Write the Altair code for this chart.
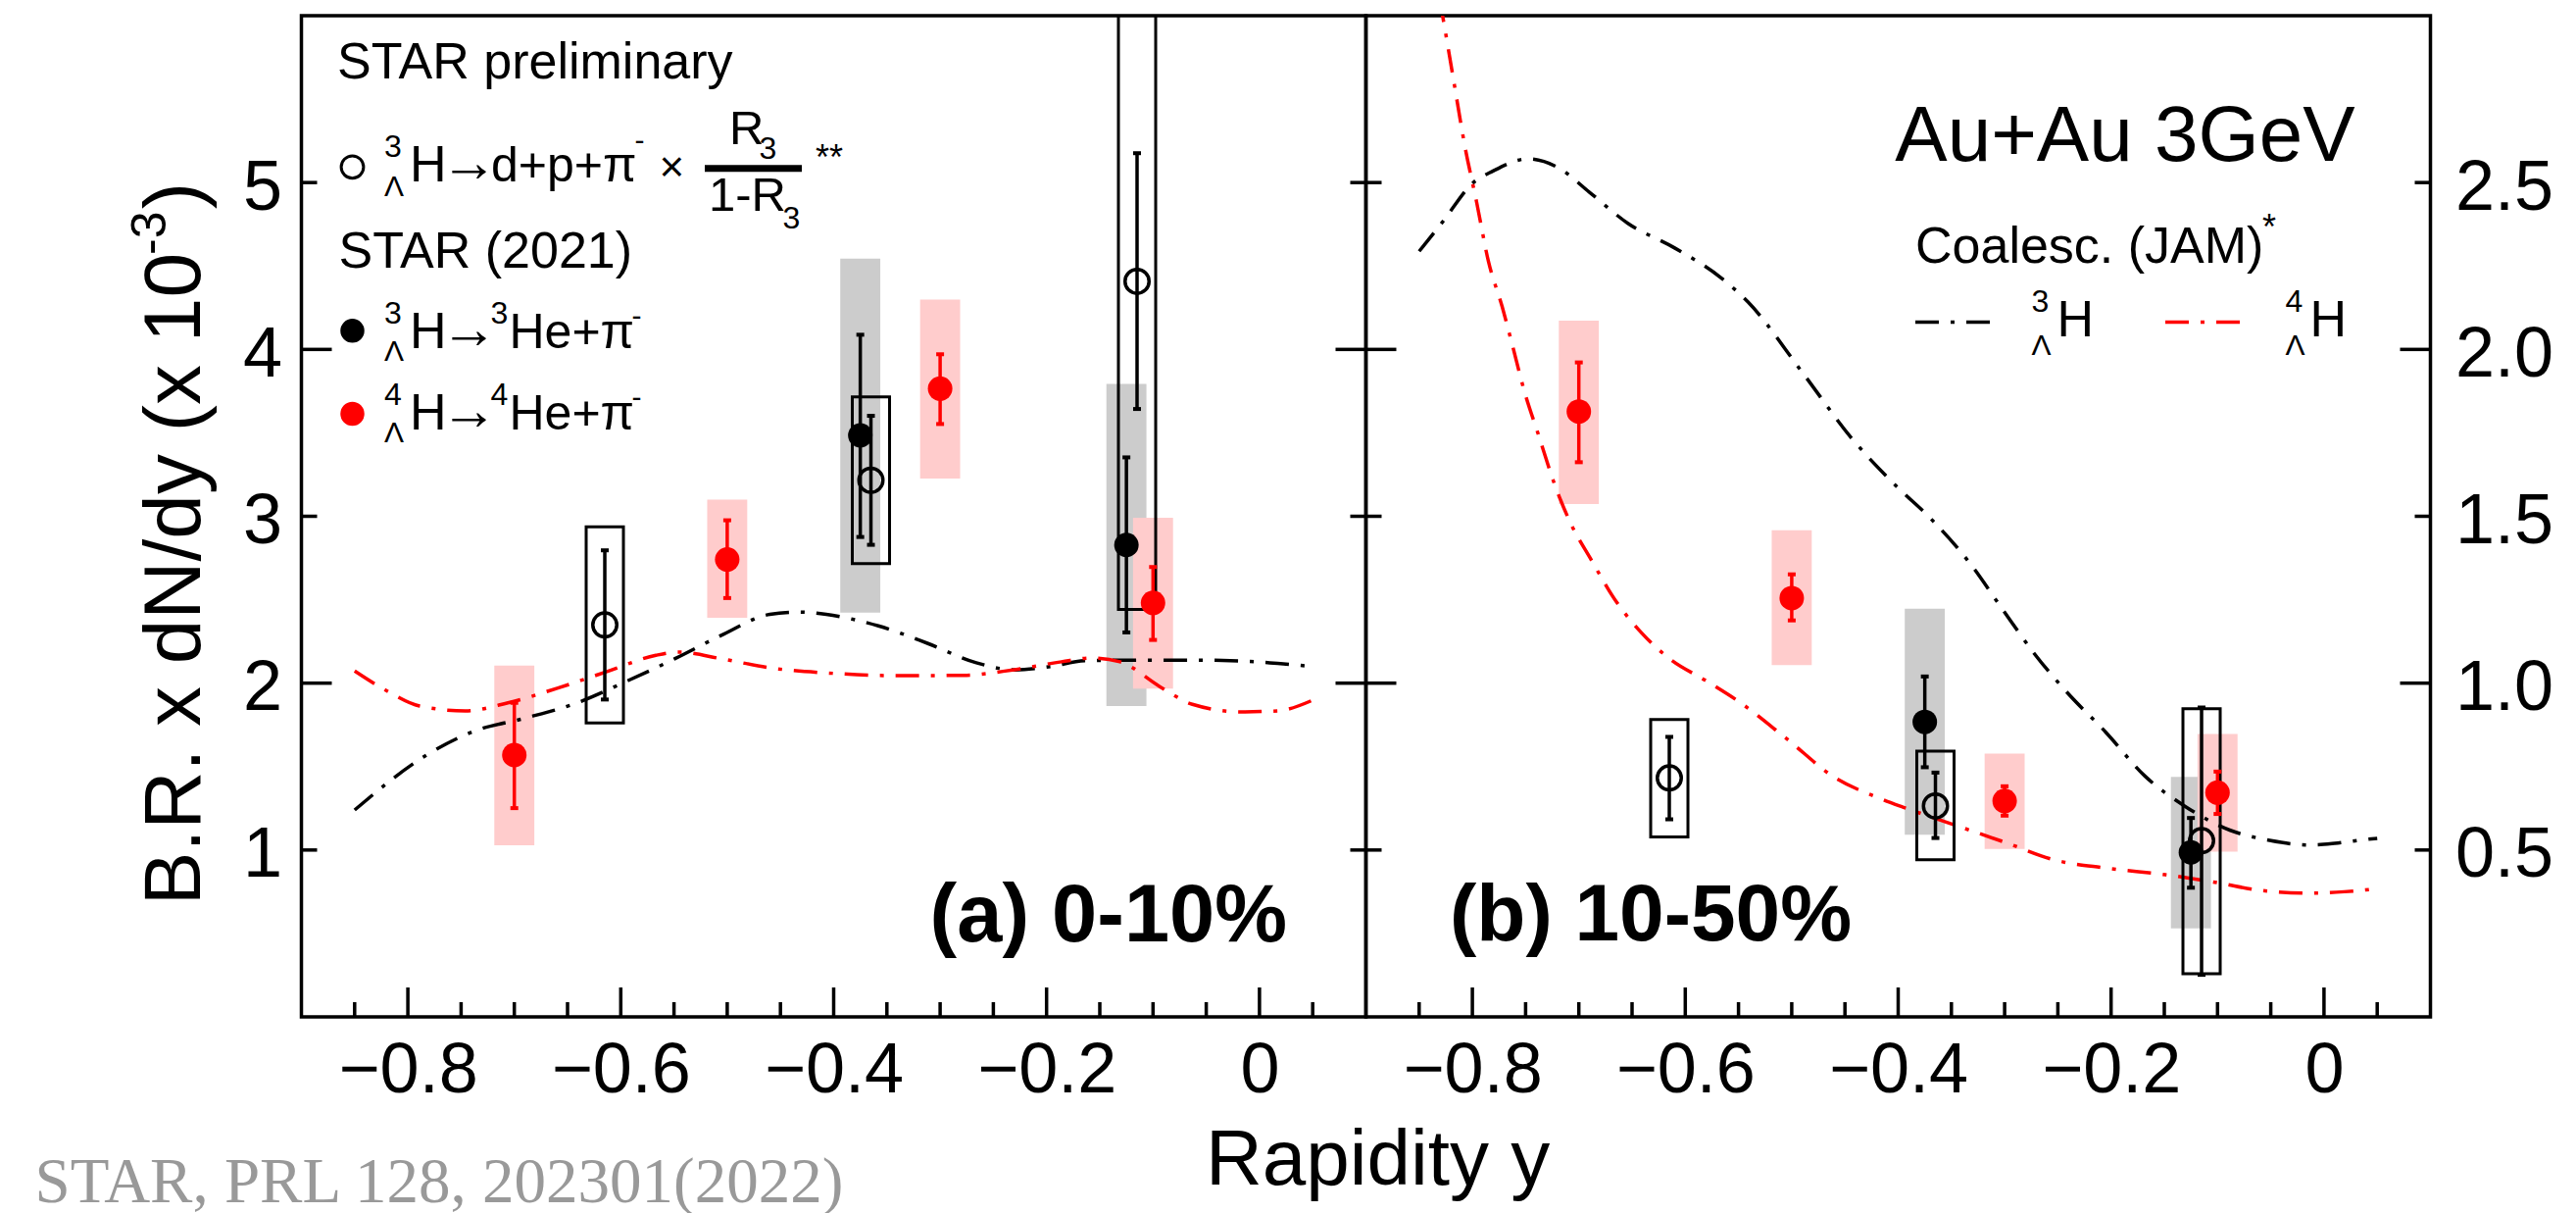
import altair as alt
import pandas as pd

FONT = "Liberation Sans"
SERIF = "Liberation Serif"

# ---------------- data ----------------
# rapidity positions
X_H4 = [-0.70, -0.50, -0.30, -0.10]          # 4ΛH -> 4He + π−
X_H3 = [-0.375, -0.125]                      # 3ΛH -> 3He + π−  (STAR 2021)
X_H3P = [-0.615, -0.365, -0.115]             # 3ΛH -> d+p+π−  (preliminary)

# panel (a) 0-10 %
A_H4_Y = [1.569, 2.741, 3.765, 2.481]
A_H4_ST_LO = [1.251, 2.510, 3.553, 2.259]
A_H4_ST_HI = [1.882, 2.976, 3.971, 2.696]
A_H4_SY_LO = [1.029, 2.392, 3.226, 1.967]
A_H4_SY_HI = [2.106, 3.100, 4.298, 2.991]

A_H3_Y = [3.485, 2.828]
A_H3_ST_LO = [2.876, 2.304]
A_H3_ST_HI = [4.088, 3.353]
A_H3_SY_LO = [2.422, 1.863]
A_H3_SY_HI = [4.544, 3.794]

A_H3P_Y = [2.349, 3.216, 4.408]
A_H3P_ST_LO = [1.902, 2.829, 3.643]
A_H3P_ST_HI = [2.796, 3.602, 5.176]
A_H3P_SY_LO = [1.761, 2.716, 2.441]
A_H3P_SY_HI = [2.937, 3.716, 6.375]

# panel (b) 10-50 %
B_H4_Y = [1.814, 1.255, 0.647, 0.672]
B_H4_ST_LO = [1.662, 1.188, 0.603, 0.608]
B_H4_ST_HI = [1.961, 1.326, 0.691, 0.735]
B_H4_SY_LO = [1.537, 1.054, 0.503, 0.495]
B_H4_SY_HI = [2.086, 1.458, 0.789, 0.848]

B_H3_Y = [0.884, 0.493]
B_H3_ST_LO = [0.748, 0.387]
B_H3_ST_HI = [1.020, 0.596]
B_H3_SY_LO = [0.546, 0.265]
B_H3_SY_HI = [1.223, 0.719]

B_H3P_Y = [0.716, 0.632, 0.528]
B_H3P_ST_LO = [0.592, 0.536, 0.126]
B_H3P_ST_HI = [0.839, 0.732, 0.927]
B_H3P_SY_LO = [0.539, 0.471, 0.129]
B_H3P_SY_HI = [0.891, 0.796, 0.923]

# Coalescence (JAM) curves
A_C3_X = [-0.85, -0.7825, -0.738, -0.690, -0.641, -0.595, -0.549, -0.506, -0.460, -0.432,
          -0.407, -0.358, -0.312, -0.266, -0.229, -0.198, -0.164, -0.115, -0.063, -0.014, 0.017, 0.05]
A_C3_Y = [1.24, 1.569, 1.712, 1.790, 1.882, 2.010, 2.147, 2.285, 2.412, 2.426,
          2.412, 2.343, 2.239, 2.122, 2.079, 2.098, 2.134, 2.138, 2.138, 2.132, 2.118, 2.10]
A_C4_X = [-0.85, -0.819, -0.789, -0.746, -0.706, -0.659, -0.613, -0.567, -0.546, -0.506, -0.460,
          -0.401, -0.340, -0.278, -0.232, -0.186, -0.158, -0.131, -0.094, -0.063, -0.017, 0.017, 0.05]
A_C4_Y = [2.073, 1.951, 1.863, 1.834, 1.882, 1.971, 2.069, 2.167, 2.186, 2.147, 2.092,
          2.059, 2.045, 2.047, 2.079, 2.128, 2.151, 2.128, 1.981, 1.873, 1.828, 1.834, 1.898]
B_C3_X = [-0.850, -0.828, -0.799, -0.781, -0.748, -0.719, -0.690, -0.654, -0.610, -0.567, -0.541,
          -0.490, -0.444, -0.401, -0.370, -0.3335, -0.303, -0.272, -0.241, -0.205, -0.168, -0.131,
          -0.088, -0.051, -0.014, 0.010, 0.038, 0.05]
B_C3_Y = [2.294, 2.382, 2.50, 2.534, 2.571, 2.544, 2.471, 2.378, 2.304, 2.216, 2.142,
          1.931, 1.735, 1.588, 1.495, 1.363, 1.226, 1.088, 0.971, 0.853, 0.721, 0.632,
          0.559, 0.529, 0.515, 0.520, 0.531, 0.535]
B_C4_X = [-0.84, -0.828, -0.8175, -0.807, -0.796, -0.785, -0.772, -0.763, -0.751, -0.738, -0.723,
          -0.708, -0.689, -0.665, -0.640, -0.613, -0.582, -0.548, -0.505, -0.459, -0.419, -0.395,
          -0.346, -0.297, -0.254, -0.205, -0.149, -0.100, -0.057, -0.011, 0.019, 0.050]
B_C4_Y = [3.20, 3.0, 2.804, 2.608, 2.441, 2.265, 2.128, 2.02, 1.873, 1.745, 1.598,
          1.481, 1.373, 1.245, 1.147, 1.069, 1.010, 0.941, 0.834, 0.716, 0.657, 0.628,
          0.574, 0.520, 0.471, 0.446, 0.426, 0.402, 0.378, 0.371, 0.375, 0.384]

# axis ticks / labels
X_MAJOR = [-0.8, -0.6, -0.4, -0.2, 0.0]
X_MINOR = [-0.85, -0.75, -0.70, -0.65, -0.55, -0.50, -0.45, -0.35, -0.30, -0.25,
           -0.15, -0.10, -0.05, 0.05]
A_Y_LABELS = [1, 2, 3, 4, 5]
A_Y_MAJOR = [2, 4]
A_Y_MINOR = [1, 3, 5]
B_Y_LABELS = [0.5, 1.0, 1.5, 2.0, 2.5]
B_Y_MAJOR = [1.0, 2.0]
B_Y_MINOR = [0.5, 1.5, 2.5]

# ---------------- style ----------------
W, H = 1086, 1021
LW = 3.5
DASH = [24, 12, 4, 12]
GREY = "#cccccc"
PINK = "#ffcccc"
RED = "#ff0000"
SYS_HW = 0.0188
BOX_HW = 0.0175


def pts(xv, v, lo, hi, slo, shi):
    return pd.DataFrame({"x": xv, "v": v, "lo": lo, "hi": hi, "slo": slo, "shi": shi})


def one():
    return alt.Data(values=[{"k": 0}])


def txt(s, x, y, size, align="left", weight="normal", color="black", font=FONT, angle=None):
    kw = dict(text=s, align=align, baseline="alphabetic", fontSize=size,
              fontWeight=weight, color=color, font=font)
    if angle is not None:
        kw["angle"] = angle
    return alt.Chart(one()).mark_text(**kw).encode(x=alt.value(x), y=alt.value(y))


def dot(x, y, color, filled=True, size=600):
    if filled:
        return alt.Chart(one()).mark_circle(size=size, color=color, opacity=1).encode(
            x=alt.value(x), y=alt.value(y))
    return alt.Chart(one()).mark_point(shape="circle", filled=False, size=size, strokeWidth=3,
                                       color=color, opacity=1).encode(x=alt.value(x), y=alt.value(y))


def hline(x1, x2, y, color, width=LW, dash=None):
    kw = dict(color=color, strokeWidth=width)
    if dash:
        kw["strokeDash"] = dash
    return alt.Chart(one()).mark_rule(**kw).encode(x=alt.value(x1), x2=alt.value(x2), y=alt.value(y))


XAXIS = alt.Axis(values=X_MAJOR, format="~g", title=None, ticks=False, tickSize=0, domain=False,
                 grid=False, labelFontSize=72, labelPadding=19, labelFlush=False, labelOverlap=False)


def panel(h4, h3, h3p, c3, c4, ymax, ymaj, ymin, yaxis, notes):
    xs = alt.Scale(domain=[-0.9, 0.1], nice=False, zero=False)
    ys = alt.Scale(domain=[0, ymax], nice=False, zero=False)

    def X(f):
        return alt.X(f, type="quantitative", scale=xs, axis=XAXIS)

    def Y(f):
        return alt.Y(f, type="quantitative", scale=ys, axis=yaxis)

    def boxes(df, hw):
        return alt.Chart(df).transform_calculate(x1=f"datum.x - {hw}", x2=f"datum.x + {hw}")

    def errs(df, color):
        return [
            alt.Chart(df).mark_rule(color=color, strokeWidth=LW).encode(x=X("x"), y=Y("lo"), y2=alt.Y2("hi")),
            alt.Chart(df).mark_tick(orient="horizontal", size=8, thickness=4, color=color, opacity=1)
            .encode(x=X("x"), y=Y("lo")),
            alt.Chart(df).mark_tick(orient="horizontal", size=8, thickness=4, color=color, opacity=1)
            .encode(x=X("x"), y=Y("hi")),
        ]

    layers = [
        boxes(h3, SYS_HW).mark_rect(color=GREY).encode(x=X("x1"), x2=alt.X2("x2"), y=Y("slo"), y2=alt.Y2("shi")),
        boxes(h4, SYS_HW).mark_rect(color=PINK).encode(x=X("x1"), x2=alt.X2("x2"), y=Y("slo"), y2=alt.Y2("shi")),
        alt.Chart(c3).mark_line(color="black", strokeWidth=LW, strokeDash=DASH, interpolate="monotone",
                                clip=True).encode(x=X("x"), y=Y("y")),
        alt.Chart(c4).mark_line(color=RED, strokeWidth=LW, strokeDash=DASH, interpolate="monotone",
                                clip=True).encode(x=X("x"), y=Y("y")),
        boxes(h3p, BOX_HW).mark_rect(fillOpacity=0, stroke="black", strokeWidth=3, clip=True)
        .encode(x=X("x1"), x2=alt.X2("x2"), y=Y("slo"), y2=alt.Y2("shi")),
        alt.Chart(h3p).mark_point(shape="circle", filled=False, size=600, strokeWidth=LW, color="black",
                                  opacity=1).encode(x=X("x"), y=Y("v")),
    ]
    layers += errs(h3p, "black")
    layers += errs(h3, "black")
    layers += errs(h4, RED)
    layers += [
        alt.Chart(h3).mark_circle(size=625, color="black", opacity=1).encode(x=X("x"), y=Y("v")),
        alt.Chart(h4).mark_circle(size=625, color=RED, opacity=1).encode(x=X("x"), y=Y("v")),
        # inward ticks
        alt.Chart(pd.DataFrame({"v": X_MAJOR})).mark_rule(color="black", strokeWidth=LW)
        .encode(x=X("v"), y=alt.value(H), y2=alt.value(H - 30)),
        alt.Chart(pd.DataFrame({"v": X_MINOR})).mark_rule(color="black", strokeWidth=LW)
        .encode(x=X("v"), y=alt.value(H), y2=alt.value(H - 15)),
        alt.Chart(pd.DataFrame({"v": ymaj})).mark_rule(color="black", strokeWidth=LW)
        .encode(y=Y("v"), x=alt.value(0), x2=alt.value(31)),
        alt.Chart(pd.DataFrame({"v": ymin})).mark_rule(color="black", strokeWidth=LW)
        .encode(y=Y("v"), x=alt.value(0), x2=alt.value(16)),
        alt.Chart(pd.DataFrame({"v": ymaj})).mark_rule(color="black", strokeWidth=LW)
        .encode(y=Y("v"), x=alt.value(W), x2=alt.value(W - 31)),
        alt.Chart(pd.DataFrame({"v": ymin})).mark_rule(color="black", strokeWidth=LW)
        .encode(y=Y("v"), x=alt.value(W), x2=alt.value(W - 16)),
    ]
    layers += notes
    return alt.layer(*layers).properties(width=W, height=H)


A_YAXIS = alt.Axis(orient="left", values=A_Y_LABELS, format="~g", title=None, ticks=False, tickSize=0,
                   domain=False, grid=False, labelFontSize=72, labelPadding=20, labelOffset=5)
B_YAXIS = alt.Axis(orient="right", values=B_Y_LABELS, format=".1f", title=None, ticks=False, tickSize=0,
                   domain=False, grid=False, labelFontSize=72, labelPadding=25, labelOffset=5)

left_notes = [
    txt("STAR preliminary", 36.5, 64.3, 52),
    dot(52, 154.3, "black", filled=False, size=520),
    txt("3", 84.5, 144.3, 32), txt("Λ", 84.5, 184.3, 30), txt("H", 110.5, 169.3, 52),
    txt("→", 171, 169.3, 58, align="center"), txt("d+p+π", 193.5, 169.3, 50),
    txt("-", 340, 137.3, 30), txt("×", 365, 169.3, 44),
    txt("R", 436.5, 131.3, 49), txt("3", 467, 146.3, 32),
    hline(411.5, 510.5, 155.8, "black", width=7),
    txt("1-R", 415.5, 199.3, 49), txt("3", 491, 217.3, 32),
    txt("**", 524.5, 157, 36),
    txt("STAR (2021)", 38, 257.3, 52),
    dot(52, 321.3, "black"),
    txt("3", 84.5, 314.3, 32), txt("Λ", 84.5, 352.3, 30), txt("H", 110.5, 339.3, 52),
    txt("→", 171, 339.3, 58, align="center"), txt("3", 193, 314.3, 32), txt("He+π", 212, 339.3, 50),
    txt("-", 337, 316.3, 30),
    dot(52, 406, RED),
    txt("4", 84.5, 397.3, 32), txt("Λ", 84.5, 435.3, 30), txt("H", 110.5, 422.3, 52),
    txt("→", 171, 422.3, 58, align="center"), txt("4", 193, 397.3, 32), txt("He+π", 212, 422.3, 50),
    txt("-", 337, 399.3, 30),
    txt("(a) 0-10%", 1005.5, 944.3, 83, align="right", weight="bold"),
    txt("B.R. x dN/dy (x 10", -103.5, 907.3, 82, angle=270),
    txt("-3", -138.5, 244, 50, angle=270),
    txt(")", -103.5, 197.3, 82, angle=270),
    txt("Rapidity y", 1098, 1191.5, 80, align="center"),
    txt("STAR, PRL 128, 202301(2022)", -272, 1210, 65, color="#999999", font=SERIF),
]

right_notes = [
    txt("Au+Au 3GeV", 1009, 147.6, 80, align="right"),
    txt("Coalesc. (JAM)", 560.5, 252.3, 52),
    txt("*", 914.5, 228.1, 36),
    hline(560.5, 638, 312.6, "black", dash=DASH),
    txt("3", 679, 302.3, 32), txt("Λ", 679, 346.3, 30), txt("H", 705, 327.3, 52),
    hline(815.5, 894.5, 312.6, RED, dash=DASH),
    txt("4", 938, 302.3, 32), txt("Λ", 938, 346.3, 30), txt("H", 963, 327.3, 52),
    txt("(b) 10-50%", 85.5, 943, 82, weight="bold"),
]

left = panel(
    pts(X_H4, A_H4_Y, A_H4_ST_LO, A_H4_ST_HI, A_H4_SY_LO, A_H4_SY_HI),
    pts(X_H3, A_H3_Y, A_H3_ST_LO, A_H3_ST_HI, A_H3_SY_LO, A_H3_SY_HI),
    pts(X_H3P, A_H3P_Y, A_H3P_ST_LO, A_H3P_ST_HI, A_H3P_SY_LO, A_H3P_SY_HI),
    pd.DataFrame({"x": A_C3_X, "y": A_C3_Y}),
    pd.DataFrame({"x": A_C4_X, "y": A_C4_Y}),
    6, A_Y_MAJOR, A_Y_MINOR, A_YAXIS, left_notes,
)
right = panel(
    pts(X_H4, B_H4_Y, B_H4_ST_LO, B_H4_ST_HI, B_H4_SY_LO, B_H4_SY_HI),
    pts(X_H3, B_H3_Y, B_H3_ST_LO, B_H3_ST_HI, B_H3_SY_LO, B_H3_SY_HI),
    pts(X_H3P, B_H3P_Y, B_H3P_ST_LO, B_H3P_ST_HI, B_H3P_SY_LO, B_H3P_SY_HI),
    pd.DataFrame({"x": B_C3_X, "y": B_C3_Y}),
    pd.DataFrame({"x": B_C4_X, "y": B_C4_Y}),
    3, B_Y_MAJOR, B_Y_MINOR, B_YAXIS, right_notes,
)

chart = (
    alt.hconcat(left, right, spacing=0, bounds="flush")
    .properties(padding={"left": 25.5, "top": 6, "right": 0, "bottom": 0}, background="white")
    .configure_view(stroke="black", strokeWidth=LW)
    .configure_axis(labelFont=FONT, labelColor="black")
)

chart.save("out.html", embed_options={"renderer": "svg", "actions": False})
